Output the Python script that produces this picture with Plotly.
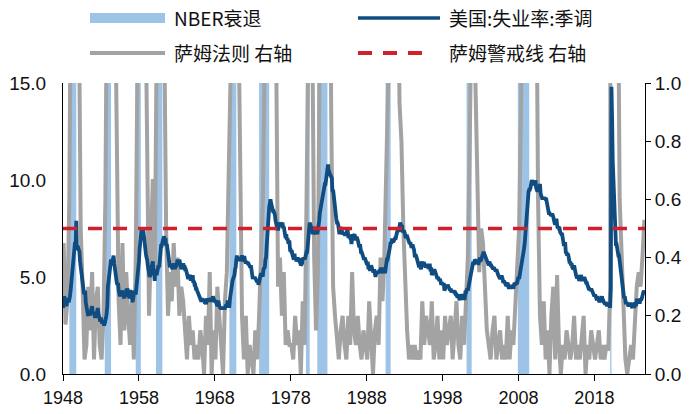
import pandas as pd
import plotly.graph_objects as go

# ---------------- data ----------------
# US unemployment rate, seasonally adjusted, monthly from 1948-01 (%)
unemployment_rate = [
    3.4, 3.8, 4.0, 3.9, 3.5, 3.6, 3.6, 3.9, 3.8, 3.7, 3.8, 4.0,   # 1948
    4.3, 4.7, 5.0, 5.3, 6.1, 6.2, 6.7, 6.8, 6.6, 7.9, 6.4, 6.6,   # 1949
    6.5, 6.4, 6.3, 5.8, 5.5, 5.4, 5.0, 4.5, 4.4, 4.2, 4.2, 4.3,   # 1950
    3.7, 3.4, 3.4, 3.1, 3.0, 3.2, 3.1, 3.1, 3.3, 3.5, 3.5, 3.1,   # 1951
    3.2, 3.1, 2.9, 2.9, 3.0, 3.0, 3.2, 3.4, 3.1, 3.0, 2.8, 2.7,   # 1952
    2.9, 2.6, 2.6, 2.7, 2.5, 2.5, 2.6, 2.7, 2.9, 3.1, 3.5, 4.5,   # 1953
    4.9, 5.2, 5.7, 5.9, 5.9, 5.6, 5.8, 6.0, 6.1, 5.7, 5.3, 5.0,   # 1954
    4.9, 4.7, 4.6, 4.7, 4.3, 4.2, 4.0, 4.2, 4.1, 4.3, 4.2, 4.2,   # 1955
    4.0, 3.9, 4.2, 4.0, 4.3, 4.3, 4.4, 4.1, 3.9, 3.9, 4.3, 4.2,   # 1956
    4.2, 3.9, 3.7, 3.9, 4.1, 4.3, 4.2, 4.1, 4.4, 4.5, 5.1, 5.2,   # 1957
    5.8, 6.4, 6.7, 7.4, 7.4, 7.3, 7.5, 7.4, 7.1, 6.7, 6.2, 6.2,   # 1958
    6.0, 5.9, 5.6, 5.2, 5.1, 5.0, 5.1, 5.2, 5.5, 5.7, 5.8, 5.3,   # 1959
    5.2, 4.8, 5.4, 5.2, 5.1, 5.4, 5.5, 5.6, 5.5, 6.1, 6.1, 6.6,   # 1960
    6.6, 6.9, 6.9, 7.0, 7.1, 6.9, 7.0, 6.6, 6.7, 6.5, 6.1, 6.0,   # 1961
    5.8, 5.5, 5.6, 5.6, 5.5, 5.5, 5.4, 5.7, 5.6, 5.4, 5.7, 5.5,   # 1962
    5.7, 5.9, 5.7, 5.7, 5.9, 5.6, 5.6, 5.4, 5.5, 5.5, 5.7, 5.5,   # 1963
    5.6, 5.4, 5.4, 5.3, 5.1, 5.2, 4.9, 5.0, 5.1, 5.1, 4.8, 5.0,   # 1964
    4.9, 5.1, 4.7, 4.8, 4.6, 4.6, 4.4, 4.4, 4.3, 4.2, 4.1, 4.0,   # 1965
    4.0, 3.8, 3.8, 3.8, 3.9, 3.8, 3.8, 3.8, 3.7, 3.7, 3.6, 3.8,   # 1966
    3.9, 3.8, 3.8, 3.8, 3.8, 3.9, 3.8, 3.8, 3.8, 4.0, 3.9, 3.8,   # 1967
    3.7, 3.8, 3.7, 3.5, 3.5, 3.7, 3.7, 3.5, 3.4, 3.4, 3.4, 3.4,   # 1968
    3.4, 3.4, 3.4, 3.4, 3.4, 3.5, 3.5, 3.5, 3.7, 3.7, 3.5, 3.5,   # 1969
    3.9, 4.2, 4.4, 4.6, 4.8, 4.9, 5.0, 5.1, 5.4, 5.5, 5.9, 6.1,   # 1970
    5.9, 5.9, 6.0, 5.9, 5.9, 5.9, 6.0, 6.1, 6.0, 5.8, 6.0, 6.0,   # 1971
    5.8, 5.7, 5.8, 5.7, 5.7, 5.7, 5.6, 5.6, 5.5, 5.6, 5.3, 5.2,   # 1972
    4.9, 5.0, 4.9, 5.0, 4.9, 4.9, 4.8, 4.8, 4.8, 4.6, 4.8, 4.9,   # 1973
    5.1, 5.2, 5.1, 5.1, 5.1, 5.4, 5.5, 5.5, 5.9, 6.0, 6.6, 7.2,   # 1974
    8.1, 8.1, 8.6, 8.8, 9.0, 8.8, 8.6, 8.4, 8.4, 8.4, 8.3, 8.2,   # 1975
    7.9, 7.7, 7.6, 7.7, 7.4, 7.6, 7.8, 7.8, 7.6, 7.7, 7.8, 7.8,   # 1976
    7.5, 7.6, 7.4, 7.2, 7.0, 7.2, 6.9, 7.0, 6.8, 6.8, 6.8, 6.4,   # 1977
    6.4, 6.3, 6.3, 6.1, 6.0, 5.9, 6.2, 5.9, 6.0, 5.8, 5.9, 6.0,   # 1978
    5.9, 5.9, 5.8, 5.8, 5.6, 5.7, 5.7, 6.0, 5.9, 6.0, 5.9, 6.0,   # 1979
    6.3, 6.3, 6.3, 6.9, 7.5, 7.6, 7.8, 7.7, 7.5, 7.5, 7.5, 7.2,   # 1980
    7.5, 7.4, 7.4, 7.2, 7.5, 7.5, 7.2, 7.4, 7.6, 7.9, 8.3, 8.5,   # 1981
    8.6, 8.9, 9.0, 9.3, 9.4, 9.6, 9.8, 9.8, 10.1, 10.4, 10.8, 10.8,  # 1982
    10.4, 10.4, 10.3, 10.2, 10.1, 10.1, 9.4, 9.5, 9.2, 8.8, 8.5, 8.3,  # 1983
    8.0, 7.8, 7.8, 7.7, 7.4, 7.2, 7.5, 7.5, 7.3, 7.4, 7.2, 7.3,   # 1984
    7.3, 7.2, 7.2, 7.3, 7.2, 7.4, 7.4, 7.1, 7.1, 7.1, 7.0, 7.0,   # 1985
    6.7, 7.2, 7.2, 7.1, 7.2, 7.2, 7.0, 6.9, 7.0, 7.0, 6.9, 6.6,   # 1986
    6.6, 6.6, 6.6, 6.3, 6.3, 6.2, 6.1, 6.0, 5.9, 6.0, 5.8, 5.7,   # 1987
    5.7, 5.7, 5.7, 5.4, 5.6, 5.4, 5.4, 5.6, 5.4, 5.4, 5.3, 5.3,   # 1988
    5.4, 5.2, 5.0, 5.2, 5.2, 5.3, 5.2, 5.2, 5.3, 5.3, 5.4, 5.4,   # 1989
    5.4, 5.3, 5.2, 5.4, 5.4, 5.2, 5.5, 5.7, 5.9, 5.9, 6.2, 6.3,   # 1990
    6.4, 6.6, 6.8, 6.7, 6.9, 6.9, 6.8, 6.9, 6.9, 7.0, 7.0, 7.3,   # 1991
    7.3, 7.4, 7.4, 7.4, 7.6, 7.8, 7.7, 7.6, 7.6, 7.3, 7.4, 7.4,   # 1992
    7.3, 7.1, 7.0, 7.1, 7.1, 7.0, 6.9, 6.8, 6.7, 6.8, 6.6, 6.5,   # 1993
    6.6, 6.6, 6.5, 6.4, 6.1, 6.1, 6.1, 6.0, 5.9, 5.8, 5.6, 5.5,   # 1994
    5.6, 5.4, 5.4, 5.8, 5.6, 5.6, 5.7, 5.7, 5.6, 5.5, 5.6, 5.6,   # 1995
    5.6, 5.5, 5.5, 5.6, 5.6, 5.3, 5.5, 5.1, 5.2, 5.2, 5.4, 5.4,   # 1996
    5.3, 5.2, 5.2, 5.1, 4.9, 5.0, 4.9, 4.8, 4.9, 4.7, 4.6, 4.7,   # 1997
    4.6, 4.6, 4.7, 4.3, 4.4, 4.5, 4.5, 4.5, 4.6, 4.5, 4.4, 4.4,   # 1998
    4.3, 4.4, 4.2, 4.3, 4.2, 4.3, 4.3, 4.2, 4.2, 4.1, 4.1, 4.0,   # 1999
    4.0, 4.1, 4.0, 3.8, 4.0, 4.0, 4.0, 4.1, 3.9, 3.9, 3.9, 3.9,   # 2000
    4.2, 4.2, 4.3, 4.4, 4.3, 4.5, 4.6, 4.9, 5.0, 5.3, 5.5, 5.7,   # 2001
    5.7, 5.7, 5.7, 5.9, 5.8, 5.8, 5.8, 5.7, 5.7, 5.7, 5.9, 6.0,   # 2002
    5.8, 5.9, 5.9, 6.0, 6.1, 6.3, 6.2, 6.1, 6.1, 6.0, 5.8, 5.7,   # 2003
    5.7, 5.6, 5.8, 5.6, 5.6, 5.6, 5.5, 5.4, 5.4, 5.5, 5.4, 5.4,   # 2004
    5.3, 5.4, 5.2, 5.2, 5.1, 5.0, 5.0, 4.9, 5.0, 5.0, 5.0, 4.9,   # 2005
    4.7, 4.8, 4.7, 4.7, 4.6, 4.6, 4.7, 4.7, 4.5, 4.4, 4.5, 4.4,   # 2006
    4.6, 4.5, 4.4, 4.5, 4.4, 4.6, 4.7, 4.6, 4.7, 4.7, 4.7, 5.0,   # 2007
    5.0, 4.9, 5.1, 5.0, 5.4, 5.6, 5.8, 6.1, 6.1, 6.5, 6.8, 7.3,   # 2008
    7.8, 8.3, 8.7, 9.0, 9.4, 9.5, 9.5, 9.6, 9.8, 10.0, 9.9, 9.9,  # 2009
    9.8, 9.8, 9.9, 9.9, 9.6, 9.4, 9.4, 9.5, 9.5, 9.4, 9.8, 9.3,   # 2010
    9.1, 9.0, 9.0, 9.1, 9.0, 9.1, 9.0, 9.0, 9.0, 8.8, 8.6, 8.5,   # 2011
    8.3, 8.3, 8.2, 8.2, 8.2, 8.2, 8.2, 8.1, 7.8, 7.8, 7.7, 7.9,   # 2012
    8.0, 7.7, 7.5, 7.6, 7.5, 7.5, 7.3, 7.2, 7.2, 7.2, 6.9, 6.7,   # 2013
    6.6, 6.7, 6.7, 6.2, 6.3, 6.1, 6.2, 6.1, 5.9, 5.7, 5.8, 5.6,   # 2014
    5.7, 5.5, 5.4, 5.4, 5.6, 5.3, 5.2, 5.1, 5.0, 5.0, 5.1, 5.0,   # 2015
    4.8, 4.9, 5.0, 5.1, 4.8, 4.9, 4.8, 4.9, 5.0, 4.9, 4.7, 4.7,   # 2016
    4.7, 4.6, 4.4, 4.4, 4.4, 4.3, 4.3, 4.4, 4.3, 4.2, 4.2, 4.1,   # 2017
    4.0, 4.1, 4.0, 4.0, 3.8, 4.0, 3.8, 3.8, 3.7, 3.8, 3.8, 3.9,   # 2018
    4.0, 3.8, 3.8, 3.7, 3.6, 3.6, 3.7, 3.6, 3.5, 3.6, 3.6, 3.6,   # 2019
    3.5, 3.5, 4.4, 14.8, 13.2, 11.0, 10.2, 8.4, 7.8, 6.8, 6.7, 6.7,  # 2020
    6.4, 6.2, 6.1, 6.1, 5.8, 5.9, 5.4, 5.1, 4.7, 4.5, 4.2, 3.9,   # 2021
    4.0, 3.8, 3.6, 3.7, 3.6, 3.6, 3.5, 3.6, 3.5, 3.6, 3.6, 3.5,   # 2022
    3.4, 3.6, 3.5, 3.4, 3.7, 3.6, 3.5, 3.8, 3.8, 3.8, 3.7, 3.7,   # 2023
    3.7, 3.9, 3.8, 3.9, 4.0, 4.1, 4.3, 4.2, 4.1,                  # 2024
]

# Sahm rule indicator (right axis), quarterly from 1948Q1
sahm_rule = [
    0.45, 0.17, 0.25, 0.60,   # 1948
    1.60, 2.50, 2.50, 2.00,   # 1949
    1.30, 0.50, 0.30, 0.05,   # 1950
    0.10, 0.30, 0.15, 0.35,   # 1951
    0.05, 0.25, 0.30, 0.10,   # 1952
    0.05, 0.20, 0.60, 1.50,   # 1953
    2.40, 2.30, 1.80, 1.40,   # 1954
    0.90, 0.25, 0.10, 0.45,   # 1955
    0.15, 0.35, 0.20, 0.10,   # 1956
    0.25, 0.05, 0.40, 1.20,   # 1957
    2.20, 2.60, 2.00, 1.40,   # 1958
    0.60, 0.20, 0.45, 0.67,   # 1959
    0.35, 1.10, 1.40, 1.60,   # 1960
    1.50, 1.20, 0.50, 0.20,   # 1961
    0.35, 0.25, 0.45, 0.30,   # 1962
    0.40, 0.20, 0.30, 0.25,   # 1963
    0.15, 0.05, 0.20, 0.10,   # 1964
    0.15, 0.05, 0.10, 0.05,   # 1965
    0.15, 0.10, 0.00, 0.20,   # 1966
    0.10, 0.35, 0.00, 0.15,   # 1967
    0.05, 0.30, 0.20, 0.10,   # 1968
    0.00, 0.25, 0.35, 0.70,   # 1969
    1.20, 1.50, 1.70, 1.50,   # 1970
    1.30, 0.60, 0.20, 0.05,   # 1971
    0.20, 0.00, 0.10, 0.05,   # 1972
    0.00, 0.15, 0.05, 0.20,   # 1973
    0.45, 0.60, 1.10, 2.00,   # 1974
    3.20, 3.80, 3.00, 2.00,   # 1975
    1.10, 0.30, 0.40, 0.20,   # 1976
    0.35, 0.10, 0.15, 0.10,   # 1977
    0.10, 0.05, 0.20, 0.10,   # 1978
    0.15, 0.00, 0.25, 0.10,   # 1979
    0.60, 1.50, 1.80, 1.20,   # 1980
    0.40, 0.15, 0.35, 1.20,   # 1981
    1.60, 1.70, 2.00, 2.30,   # 1982
    1.90, 0.90, 0.30, 0.20,   # 1983
    0.10, 0.05, 0.15, 0.20,   # 1984
    0.10, 0.05, 0.20, 0.10,   # 1985
    0.35, 0.15, 0.10, 0.20,   # 1986
    0.10, 0.05, 0.15, 0.10,   # 1987
    0.05, 0.25, 0.10, 0.00,   # 1988
    0.15, 0.20, 0.10, 0.40,   # 1989
    0.25, 0.40, 0.70, 1.20,   # 1990
    1.30, 1.10, 1.50, 1.20,   # 1991
    1.50, 0.93, 0.80, 0.50,   # 1992
    0.30, 0.15, 0.05, 0.10,   # 1993
    0.05, 0.10, 0.05, 0.08,   # 1994
    0.05, 0.25, 0.10, 0.20,   # 1995
    0.15, 0.10, 0.25, 0.05,   # 1996
    0.10, 0.20, 0.05, 0.15,   # 1997
    0.05, 0.20, 0.10, 0.15,   # 1998
    0.20, 0.05, 0.15, 0.25,   # 1999
    0.10, 0.05, 0.20, 0.10,   # 2000
    0.25, 0.40, 0.80, 1.30,   # 2001
    1.20, 1.00, 0.60, 0.35,   # 2002
    0.50, 0.45, 0.30, 0.15,   # 2003
    0.10, 0.05, 0.15, 0.20,   # 2004
    0.05, 0.10, 0.15, 0.05,   # 2005
    0.10, 0.05, 0.20, 0.05,   # 2006
    0.15, 0.10, 0.25, 0.35,   # 2007
    0.50, 0.90, 1.50, 2.30,   # 2008
    3.00, 4.00, 4.30, 3.80,   # 2009
    2.80, 1.50, 0.60, 0.20,   # 2010
    0.10, 0.25, 0.05, 0.15,   # 2011
    0.00, 0.20, 0.30, 0.05,   # 2012
    0.34, 0.10, 0.00, 0.10,   # 2013
    0.05, 0.15, 0.10, 0.05,   # 2014
    0.10, 0.20, 0.05, 0.10,   # 2015
    0.05, 0.15, 0.20, 0.00,   # 2016
    0.10, 0.05, 0.15, 0.10,   # 2017
    0.05, 0.10, 0.15, 0.05,   # 2018
    0.10, 0.05, 0.10, 0.08,   # 2019
    0.30, 9.50, 5.00, 3.00,   # 2020
    1.50, 0.60, 0.40, 0.15,   # 2021
    0.05, 0.00, 0.05, 0.10,   # 2022
    0.05, 0.20, 0.30, 0.35,   # 2023
    0.30, 0.40, 0.53,         # 2024
]

# NBER recessions (peak month, trough month)
recession_start = ["1948-11-01", "1953-07-01", "1957-08-01", "1960-04-01",
                   "1969-12-01", "1973-11-01", "1980-01-01", "1981-07-01",
                   "1990-07-01", "2001-03-01", "2007-12-01", "2020-02-01"]
recession_end = ["1949-10-01", "1954-05-01", "1958-04-01", "1961-02-01",
                 "1970-11-01", "1975-03-01", "1980-07-01", "1982-11-01",
                 "1991-03-01", "2001-11-01", "2009-06-01", "2020-04-01"]

sahm_threshold = 0.5
x_tick_years = [1948, 1958, 1968, 1978, 1988, 1998, 2008, 2018]
left_ticks = [0, 5, 10, 15]
right_ticks = [0, 0.2, 0.4, 0.6, 0.8, 1.0]
series_names = ["NBER衰退", "美国:失业率:季调", "萨姆法则 右轴", "萨姆警戒线 右轴"]

# ---------------- styles ----------------
C_REC = "#9DC3E6"
C_UR = "#0F4C81"
C_SAHM = "#A3A3A3"
C_RED = "#D0202C"
DASH = "14px,11px"
CJK = "Noto Sans CJK SC"
NUM = "Liberation Sans"

ur_dates = pd.date_range("1948-01-01", periods=len(unemployment_rate), freq="MS")
sahm_dates = pd.date_range("1948-02-01", periods=len(sahm_rule), freq="3MS")
x_start, x_end = "1948-01-01", "2024-09-01"

fig = go.Figure()

# Sahm rule (primary axis, right side, 0-1)
fig.add_trace(go.Scatter(x=sahm_dates, y=sahm_rule, mode="lines", yaxis="y",
                         line=dict(color=C_SAHM, width=4), name=series_names[2],
                         showlegend=False))
# unemployment (left axis 0-15) drawn over the grey line
fig.add_trace(go.Scatter(x=ur_dates, y=unemployment_rate, mode="lines", yaxis="y2",
                         line=dict(color=C_UR, width=3.8), name=series_names[1],
                         showlegend=False))
# threshold on top
fig.add_trace(go.Scatter(x=[x_start, x_end], y=[sahm_threshold, sahm_threshold],
                         mode="lines", yaxis="y3",
                         line=dict(color=C_RED, width=3.5, dash=DASH),
                         name=series_names[3], showlegend=False))

shapes = []
for s, e in zip(recession_start, recession_end):
    shapes.append(dict(type="rect", xref="x", yref="paper", x0=s, x1=e, y0=0, y1=1,
                       fillcolor=C_REC, line=dict(width=0), layer="below"))

# ----- manual legend (paper coords) -----
L, W = 63, 582
B, H = 374, 291
def px(xp):
    return (xp - L) / W
def py(yp):
    return (B - yp) / H

row1, row2 = py(18), py(53)
shapes += [
    dict(type="line", xref="paper", yref="paper", x0=px(90), x1=px(165), y0=row1, y1=row1,
         line=dict(color=C_REC, width=10)),
    dict(type="line", xref="paper", yref="paper", x0=px(358), x1=px(440), y0=row1, y1=row1,
         line=dict(color=C_UR, width=3.5)),
    dict(type="line", xref="paper", yref="paper", x0=px(90), x1=px(165), y0=row2, y1=row2,
         line=dict(color=C_SAHM, width=4)),
    dict(type="line", xref="paper", yref="paper", x0=px(358), x1=px(425), y0=row2, y1=row2,
         line=dict(color=C_RED, width=4, dash=DASH)),
]
annotations = []
for name, xx, yy in [(series_names[0], 172, row1), (series_names[1], 447, row1),
                     (series_names[2], 172, row2), (series_names[3], 447, row2)]:
    annotations.append(dict(text=name, xref="paper", yref="paper", x=px(xx), y=yy,
                            xanchor="left", yanchor="middle", showarrow=False,
                            font=dict(family=CJK, size=19, color="#111111")))

fig.update_layout(
    width=700, height=414,
    margin=dict(l=L, r=700 - L - W, t=B - H, b=414 - B, pad=0, autoexpand=False),
    paper_bgcolor="white", plot_bgcolor="white",
    showlegend=False,
    shapes=shapes, annotations=annotations,
    xaxis=dict(type="date", range=[x_start, x_end], automargin=False,
               tickvals=[f"{y}-01-01" for y in x_tick_years],
               ticktext=[str(y) for y in x_tick_years],
               ticks="outside", ticklen=6, tickcolor="black", tickwidth=1,
               ticklabelstandoff=1,
               showline=True, linecolor="black", linewidth=1,
               showgrid=False, zeroline=False,
               tickfont=dict(family=NUM, size=18, color="#111111")),
    yaxis=dict(range=[0, 1], side="right", tickvals=right_ticks, tickformat=".1f",
               ticks="outside", ticklen=5, tickcolor="black", tickwidth=1,
               automargin=False,
               showline=True, linecolor="black", linewidth=1,
               showgrid=False, zeroline=False,
               tickfont=dict(family=NUM, size=19, color="#111111")),
    yaxis2=dict(range=[0, 15], side="left", overlaying="y", tickvals=left_ticks,
                tickformat=".1f", ticks="", showline=True, linecolor="black",
                automargin=False,
                linewidth=1, showgrid=False, zeroline=False, ticklabelstandoff=12,
                tickfont=dict(family=NUM, size=19, color="#111111")),
    yaxis3=dict(range=[0, 1], overlaying="y", visible=False),
)

fig.write_html("out.html")
